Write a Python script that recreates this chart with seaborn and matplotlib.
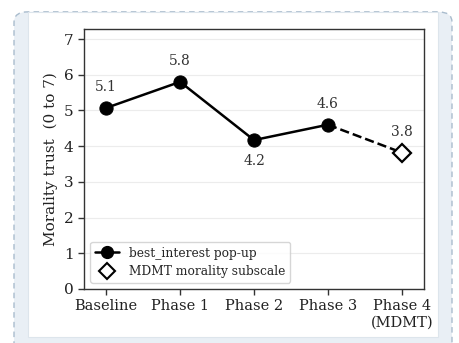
import matplotlib
matplotlib.use("Agg")
import matplotlib.pyplot as plt
import seaborn as sns
import pandas as pd
from matplotlib.patches import FancyBboxPatch, Rectangle
from matplotlib.lines import Line2D

phases = ["Baseline", "Phase 1", "Phase 2", "Phase 3", "Phase 4\n(MDMT)"]
popup_values = [5.07, 5.80, 4.17, 4.60]
mdmt_value = 3.82
value_labels = ["5.1", "5.8", "4.2", "4.6", "3.8"]
label_above = [True, True, False, True, True]

sns.set_style("white")
plt.rcParams["font.family"] = ["DejaVu Serif"]

fig = plt.figure(figsize=(4.59, 3.43), dpi=100)

# panel look: light frame with dashed border, white card inside
fig.patches.append(FancyBboxPatch((14 / 459, -0.05), 438 / 459, 1.03 - 5 / 343,
                                  boxstyle="round,pad=0,rounding_size=0.03",
                                  transform=fig.transFigure, facecolor="#e9eff5",
                                  edgecolor="#a9bccd", linestyle=(0, (4, 3)),
                                  linewidth=1.0, zorder=-2))
fig.patches.append(Rectangle((28 / 459, 1 - 337 / 343), 410 / 459, 325 / 343,
                             transform=fig.transFigure, facecolor="white",
                             edgecolor="#dde5ec", linewidth=0.8, zorder=-1))

ax = fig.add_axes([84 / 459, 1 - 289 / 343, 340 / 459, 260 / 343])

df = pd.DataFrame({"x": range(len(popup_values)), "trust": popup_values})
sns.lineplot(data=df, x="x", y="trust", ax=ax, color="black", linewidth=1.8,
             marker="o", markersize=9.5, markeredgecolor="black")

# dashed link from Phase 3 to the MDMT point
link = pd.DataFrame({"x": [3, 4], "trust": [popup_values[-1], mdmt_value]})
sns.lineplot(data=link, x="x", y="trust", ax=ax, color="black", linewidth=1.8,
             linestyle="--", zorder=1)
ax.plot([4], [mdmt_value], marker="D", markersize=9, markerfacecolor="white",
        markeredgecolor="black", markeredgewidth=1.6, linestyle="none", zorder=3)

all_vals = popup_values + [mdmt_value]
for i, (v, lab, up) in enumerate(zip(all_vals, value_labels, label_above)):
    ax.annotate(lab, (i, v), xytext=(0, 10 if up else -10), textcoords="offset points",
                ha="center", va="bottom" if up else "top", fontsize=10, color="#333333")

ax.set_xlim(-0.3, 4.3)
ax.set_ylim(0, 7.28)
ax.set_xticks(range(len(phases)))
ax.set_xticklabels(phases, fontsize=10.5, color="#222222")
ax.set_yticks(range(0, 8))
ax.tick_params(axis="y", labelsize=11, length=4, width=1, color="#333333", left=True,
               labelcolor="#222222")
ax.tick_params(axis="x", length=4, width=1, color="#333333", bottom=True)
ax.set_xlabel("")
ax.set_ylabel("Morality trust  (0 to 7)", fontsize=11, color="#222222")
ax.grid(axis="y", color="#ececec", linewidth=0.8)
ax.set_axisbelow(True)
for s in ax.spines.values():
    s.set_color("#333333")
    s.set_linewidth(1.0)

handles = [
    Line2D([], [], color="black", linewidth=1.8, marker="o", markersize=8.5),
    Line2D([], [], color="black", linewidth=0, marker="D", markersize=8.5,
           markerfacecolor="white", markeredgewidth=1.5),
]
ax.legend(handles, ["best_interest pop-up", "MDMT morality subscale"],
          loc="lower left", fontsize=8.8, frameon=True, handlelength=2.0,
          borderpad=0.4, labelspacing=0.45, edgecolor="#cccccc", fancybox=True)

fig.savefig("out.png", dpi=100)
